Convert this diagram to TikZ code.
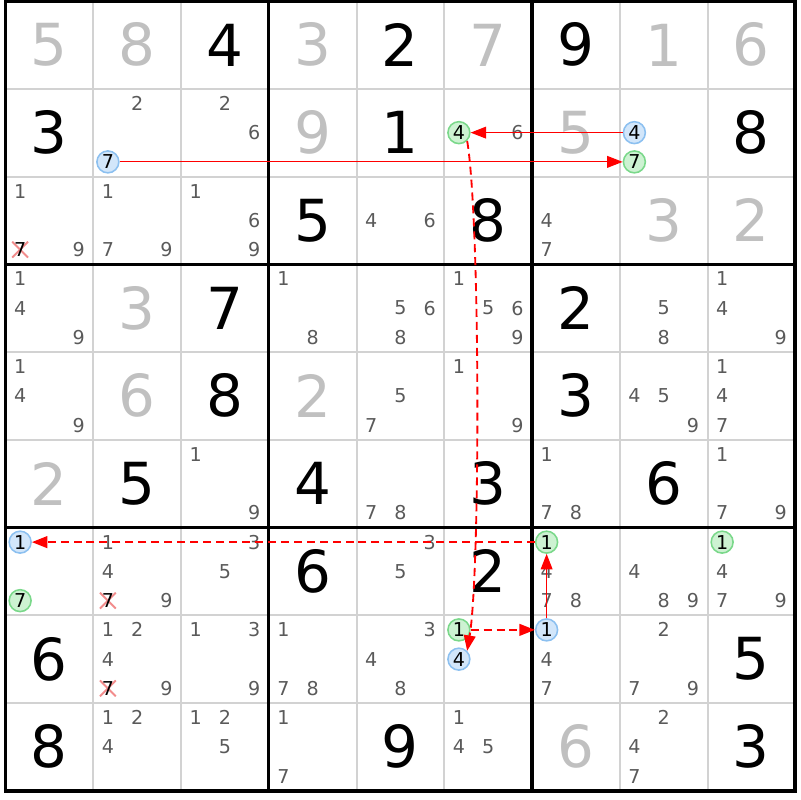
\documentclass[tikz,border=0pt]{standalone}
\usepackage{fontspec}
\setmainfont{DejaVu Sans}
\usetikzlibrary{arrows.meta,calc}
\definecolor{candgray}{HTML}{5A5A5A}
\definecolor{solvedgray}{HTML}{C0C0C0}
\definecolor{thingray}{HTML}{D2D2D2}
\definecolor{onblue}{HTML}{D2E6FA}
\definecolor{onblueline}{HTML}{8CC0F0}
\definecolor{ongreen}{HTML}{CDF2D2}
\definecolor{ongreenline}{HTML}{7AD88A}
\definecolor{elimred}{HTML}{F28C8C}
\tikzset{>={Triangle[length=5pt,width=3.8pt]}}
\tikzset{
  given/.style={font=\fontsize{18.8}{18.8}\selectfont, text=black, inner sep=0pt},
  placed/.style={given, text=solvedgray},
  cand/.style={font=\fontsize{6.2}{6.2}\selectfont, text=candgray, inner sep=0pt},
  onnode/.style={circle, draw=onblueline, fill=onblue, line width=0.5pt, minimum size=0.25cm, inner sep=0pt, font=\fontsize{6.2}{6.2}\selectfont},
  offnode/.style={onnode, draw=ongreenline, fill=ongreen},
  strong/.style={->, red, line width=0.4pt},
  weak/.style={->, red, line width=0.6pt, dash pattern=on 2.6pt off 1.6pt},
  elim/.style={elimred, line width=0.65pt}
}

\begin{document}
\begin{tikzpicture}[x=1cm, y=-1cm]
      \useasboundingbox (-0.0627,-0.0114) rectangle (9.0543,9.1054);
      \draw[thingray, line width=0.65pt] (0,0) grid (9,9);
      \foreach \i in {3,6} {
        \draw[line width=1pt] (\i,0) -- (\i,9);
        \draw[line width=1pt] (0,\i) -- (9,\i);
      }
      \draw[line width=1.2pt] (0,0) rectangle (9,9);

      % givens and solved cells
      \foreach \r/\c/\d in {1/3/4, 1/5/2, 1/7/9, 2/1/3, 2/5/1, 2/9/8, 3/4/5, 3/6/8, 4/3/7, 4/7/2, 5/3/8, 5/7/3,
                            6/2/5, 6/4/4, 6/6/3, 6/8/6, 7/4/6, 7/6/2, 8/1/6, 8/9/5, 9/1/8, 9/5/9, 9/9/3}
        \node[given] (g\r\c) at (\c-0.5,\r-0.5) {\d};
      \foreach \r/\c/\d in {1/1/5, 1/2/8, 1/4/3, 1/6/7, 1/8/1, 1/9/6, 2/4/9, 2/7/5, 3/8/3, 3/9/2,
                            4/2/3, 5/2/6, 5/4/2, 6/1/2, 9/7/6}
        \node[placed] (g\r\c) at (\c-0.5,\r-0.5) {\d};

      % pencil marks
      \foreach \r/\c/\ds in {2/2/{2}, 2/3/{2,6}, 2/6/{6}, 3/1/{1,9}, 3/2/{1,7,9}, 3/3/{1,6,9}, 3/5/{4,6}, 3/7/{4,7},
                             4/1/{1,4,9}, 4/4/{1,8}, 4/5/{5,6,8}, 4/6/{1,5,6,9}, 4/8/{5,8}, 4/9/{1,4,9},
                             5/1/{1,4,9}, 5/5/{5,7}, 5/6/{1,9}, 5/8/{4,5,9}, 5/9/{1,4,7},
                             6/3/{1,9}, 6/5/{7,8}, 6/7/{1,7,8}, 6/9/{1,7,9},
                             7/2/{1,4,9}, 7/3/{3,5}, 7/5/{3,5}, 7/7/{4,7,8}, 7/8/{4,8,9}, 7/9/{4,7,9},
                             8/2/{1,2,4,9}, 8/3/{1,3,9}, 8/4/{1,7,8}, 8/5/{3,4,8}, 8/7/{4,7}, 8/8/{2,7,9},
                             9/2/{1,2,4}, 9/3/{1,2,5}, 9/4/{1,7}, 9/6/{1,4,5}, 9/8/{2,4,7}} {
        \foreach \d in \ds {
          \pgfmathsetmacro\cx{\c-1+(mod(\d-1,3)+0.5)/3}
          \pgfmathsetmacro\cy{\r-1+(int((\d-1)/3)+0.5)/3}
          \node[cand] (k\r\c\d) at (\cx,\cy) {\d};
        }
      }

      % eliminated 7s
      \foreach \r/\c in {3/1, 7/2, 8/2} {
        \coordinate (x\r\c) at (\c-1+1/6,\r-1+5/6);
        \draw[elim] ($(x\r\c)+(-0.09,-0.09)$) -- ($(x\r\c)+(0.09,0.09)$);
        \draw[elim] ($(x\r\c)+(-0.09,0.09)$) -- ($(x\r\c)+(0.09,-0.09)$);
        \node[cand, text=black] (k\r\c7) at (x\r\c) {7};
      }

      % chain
      \node[onnode] (p1) at (1+1/6,1+5/6) {7};
      \node[offnode] (p2) at (7+1/6,1+5/6) {7};
      \node[onnode] (p3) at (7+1/6,1.5) {4};
      \node[offnode] (p4) at (5+1/6,1.5) {4};
      \node[onnode] (p5) at (5+1/6,7.5) {4};
      \node[offnode] (p6) at (5+1/6,7+1/6) {1};
      \node[onnode] (p7) at (6+1/6,7+1/6) {1};
      \node[offnode] (p8) at (6+1/6,6+1/6) {1};
      \node[onnode] (p9) at (1/6,6+1/6) {1};
      \node[offnode] (p10) at (1/6,6+5/6) {7};
      \node[offnode] (p11) at (8+1/6,6+1/6) {1};

      \draw[strong] (p1) -- (p2);
      \draw[strong] (p3) -- (p4);
      \draw[weak] (p4.-45) .. controls +(0.15,0.9) and +(0.15,-0.9) .. (p5.45);
      \draw[weak] (p6) -- (p7);
      \draw[strong] (p7) -- (p8);
      \draw[weak] (p8) -- (p9);
\end{tikzpicture}
\end{document}
